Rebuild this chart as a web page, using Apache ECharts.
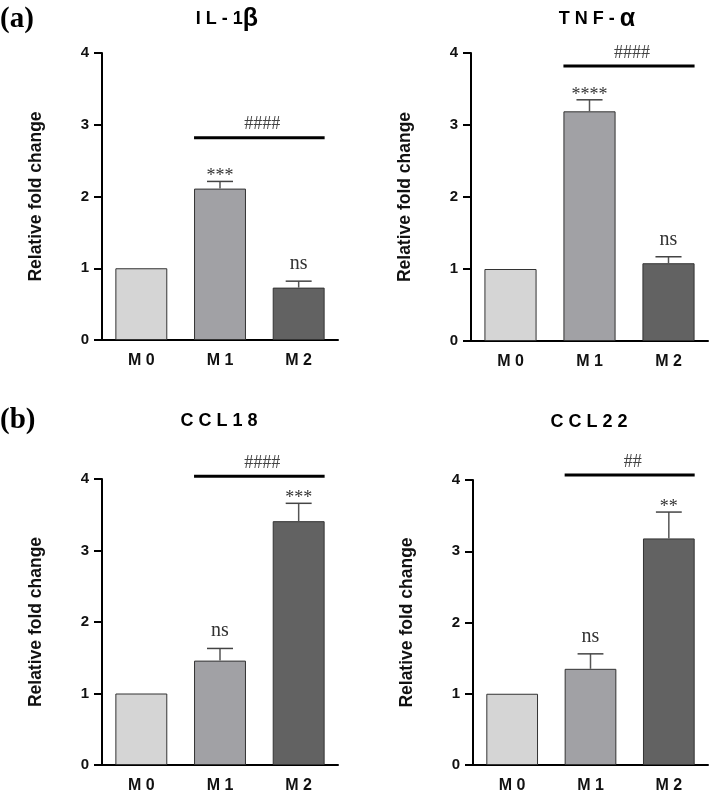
<!DOCTYPE html>
<html><head><meta charset="utf-8">
<script src="https://cdn.jsdelivr.net/npm/echarts@6/dist/echarts.min.js"></script>
<style>html,body{margin:0;padding:0;background:#fff}#c{width:712px;height:794px}</style>
</head><body><div id="c"></div>
<script>
// ---- data ----
const categories = ['M 0', 'M 1', 'M 2'];
const yTicks = [0, 1, 2, 3, 4];

const il1bMean = [1.0, 2.11, 0.73];
const il1bErr = [0, 0.10, 0.09];
const il1bMarks = ['', '***', 'ns'];
const il1bSig = [1, 2, 2.82, '####'];

const tnfMean = [1.0, 3.19, 1.08];
const tnfErr = [0, 0.16, 0.09];
const tnfMarks = ['', '****', 'ns'];
const tnfSig = [1, 2, 3.82, '####'];

const ccl18Mean = [1.0, 1.46, 3.41];
const ccl18Err = [0, 0.17, 0.25];
const ccl18Marks = ['', 'ns', '***'];
const ccl18Sig = [1, 2, 4.04, '####'];

const ccl22Mean = [1.0, 1.35, 3.18];
const ccl22Err = [0, 0.21, 0.37];
const ccl22Marks = ['', 'ns', '**'];
const ccl22Sig = [1, 2, 4.07, '##'];

const titles = ['I L - 1', 'T N F - ', 'C C L 1 8', 'C C L 2 2'];
const greek = ['β', 'α', '', ''];
const panelLetters = ['(a)', '(b)'];
const yName = 'Relative fold change';

// ---- styles ----
const SANS = '"Liberation Sans", Arial, sans-serif';
const SERIF = '"Liberation Serif", "Times New Roman", serif';
const barColors = ['#d5d5d5', '#a1a1a5', '#626262'];

const panels = [
  {mean: il1bMean, err: il1bErr, marks: il1bMarks, sig: il1bSig, grid: {left: 102, top: 53, width: 236, height: 287}},
  {mean: tnfMean, err: tnfErr, marks: tnfMarks, sig: tnfSig, grid: {left: 471, top: 53, width: 237, height: 288}},
  {mean: ccl18Mean, err: ccl18Err, marks: ccl18Marks, sig: ccl18Sig, grid: {left: 102, top: 479, width: 236, height: 288}},
  {mean: ccl22Mean, err: ccl22Err, marks: ccl22Marks, sig: ccl22Sig, grid: {left: 473, top: 480, width: 235, height: 288}}
];

const grid = [], xAxis = [], yAxis = [], series = [];
panels.forEach((p, i) => {
  grid.push(Object.assign({containLabel: false}, p.grid));
  xAxis.push({
    type: 'category', gridIndex: i, data: categories,
    axisLine: {lineStyle: {color: '#000', width: 2}},
    axisTick: {alignWithLabel: true, length: 7, lineStyle: {color: '#000', width: 2}},
    axisLabel: {margin: 13, fontFamily: SANS, fontWeight: 'bold', fontSize: 16, color: '#111'}
  });
  yAxis.push({
    type: 'value', gridIndex: i, min: yTicks[0], max: yTicks[yTicks.length - 1], interval: 1,
    name: yName, nameLocation: 'middle', nameGap: 57,
    nameTextStyle: {fontFamily: SANS, fontWeight: 'bold', fontSize: 17.5, color: '#111'},
    axisLine: {show: true, lineStyle: {color: '#000', width: 2}},
    axisTick: {show: true, length: 8, lineStyle: {color: '#000', width: 2}},
    axisLabel: {margin: 13, fontFamily: SANS, fontWeight: 'bold', fontSize: 15, color: '#111'},
    splitLine: {show: false}
  });
  series.push({
    type: 'bar', xAxisIndex: i, yAxisIndex: i, barWidth: '66%',
    data: p.mean.map((v, k) => ({value: v, itemStyle: {color: barColors[k]}})),
    itemStyle: {borderColor: '#333', borderWidth: 1},
    z: 2
  });
  const marks = p.marks;
  series.push({
    type: 'custom', xAxisIndex: i, yAxisIndex: i, clip: false, z: 3,
    data: p.mean.map((v, k) => [k, v, p.err[k]]),
    encode: {x: 0, y: 1},
    renderItem: function (params, api) {
      const idx = api.value(0), mean = api.value(1), err = api.value(2);
      const base = api.coord([idx, mean]);
      const top = api.coord([idx, mean + err]);
      const bw = api.size([1, 0])[0] * 0.66;
      const half = bw / 4;
      const children = [];
      if (err > 0) {
        children.push({type: 'line', shape: {x1: base[0], y1: base[1], x2: top[0], y2: top[1]},
          style: {stroke: '#555', lineWidth: 1.5}});
        children.push({type: 'line', shape: {x1: top[0] - half, y1: top[1], x2: top[0] + half, y2: top[1]},
          style: {stroke: '#444', lineWidth: 1.5}});
      }
      const lab = marks[params.dataIndex];
      if (lab) {
        const isNs = lab === 'ns';
        children.push({type: 'text', x: top[0], y: top[1] - (isNs ? 17.5 : 5),
          style: {text: lab, textAlign: 'center', textVerticalAlign: 'middle', align: 'center', verticalAlign: 'middle',
            fill: '#333', font: (isNs ? '20px ' : '18px ') + SERIF}});
      }
      return {type: 'group', children: children};
    }
  });
  series.push({
    type: 'custom', xAxisIndex: i, yAxisIndex: i, clip: false, z: 3,
    data: [[p.sig[0], p.sig[1], p.sig[2]]],
    encode: {x: [0, 1], y: 2},
    renderItem: function (params, api) {
      const a = api.coord([api.value(0), api.value(2)]);
      const b = api.coord([api.value(1), api.value(2)]);
      const bw = api.size([1, 0])[0] * 0.66;
      const x1 = a[0] - bw / 2, x2 = b[0] + bw / 2;
      return {type: 'group', children: [
        {type: 'line', shape: {x1: x1, y1: a[1], x2: x2, y2: a[1]}, style: {stroke: '#000', lineWidth: 3}},
        {type: 'text', x: (x1 + x2) / 2 + 3, y: a[1] - 13,
          style: {text: p.sig[3], textAlign: 'center', textVerticalAlign: 'middle', align: 'center', verticalAlign: 'middle',
            fill: '#444', font: '18px ' + SERIF}}
      ]};
    }
  });
});

const titleCenters = [[227, 19], [597, 19], [219, 421], [589, 422]];
const graphic = [];
titles.forEach((t, i) => {
  graphic.push({
    type: 'text', x: titleCenters[i][0], y: titleCenters[i][1],
    style: {
      text: greek[i] ? '{a|' + t + '}{b|' + greek[i] + '}' : '{a|' + t + '}',
      align: 'center', verticalAlign: 'middle', textAlign: 'center', textVerticalAlign: 'middle',
      rich: {
        a: {fontFamily: SANS, fontWeight: 'bold', fontSize: 18, fill: '#000', color: '#000'},
        b: {fontFamily: SANS, fontWeight: 'bold', fontSize: 25, fill: '#000', color: '#000'}
      }
    }
  });
});
graphic.push({type: 'text', left: 0, top: 5, style: {text: panelLetters[0], font: 'bold 29px ' + SERIF, fill: '#000'}});
graphic.push({type: 'text', left: 0, top: 406, style: {text: panelLetters[1], font: 'bold 29px ' + SERIF, fill: '#000'}});

const chart = echarts.init(document.getElementById('c'), null, {renderer: 'canvas'});
chart.setOption({
  backgroundColor: '#fff',
  animation: false,
  grid: grid, xAxis: xAxis, yAxis: yAxis, series: series, graphic: graphic
});
</script></body></html>
